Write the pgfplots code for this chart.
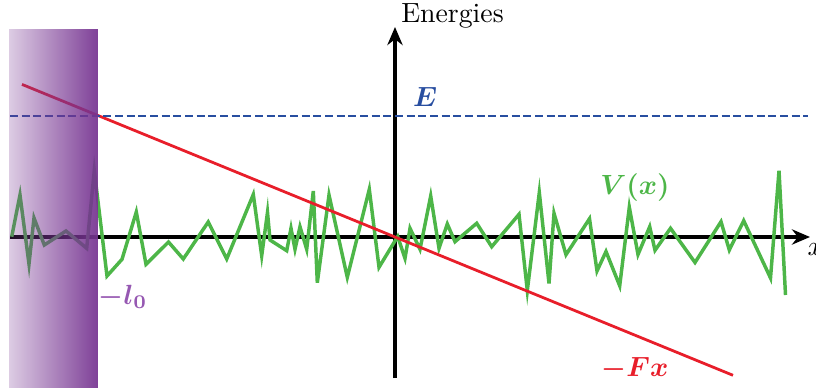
\documentclass[border=0pt]{standalone}
\usepackage{pgfplots}
\pgfplotsset{compat=1.18}
\usepackage{bm}
\usetikzlibrary{fadings,arrows.meta}
\definecolor{vgreen}{RGB}{77,182,72}
\definecolor{fred}{RGB}{232,30,42}
\definecolor{eblue}{RGB}{40,78,160}
\definecolor{lpurple}{RGB}{150,88,178}
\definecolor{wall}{RGB}{118,52,145}
\tikzfading[name=wallfade, left color=transparent!75, right color=transparent!6]
\begin{document}
\begin{tikzpicture}
\path[use as bounding box, clip] (0,0) rectangle (293.76pt,139.32pt);
\begin{axis}[at={(0,0)}, anchor=south west, x=0.36pt, y=0.36pt,
  xmin=-395, xmax=421, ymin=-150, ymax=237, hide axis, clip=false]
% axes
\draw[line width=1.15pt, -{Stealth[length=6.5pt,width=5.5pt]}] (axis cs:-385,0) -- (axis cs:415,0);
\draw[line width=1.15pt, -{Stealth[length=6.5pt,width=5.5pt]}] (axis cs:0,-141) -- (axis cs:0,210);
% potential V(x)
\addplot[vgreen, line width=1.25pt] coordinates {
(-383.3,0.3) (-375,42) (-366,-27) (-361,19) (-350.7,-8) (-329,6) (-308.3,-11.3)
(-300.7,66.3) (-288,-39) (-273,-22.3) (-258.7,25) (-249,-27.3) (-226.5,-5)
(-211.7,-22) (-186.8,15) (-168.3,-22) (-141.7,42.5) (-133.3,-18.7) (-127.5,24.7)
(-125,-3) (-108.3,-13.7) (-104,8.7) (-100,-12.3) (-95,10.3) (-88.3,-12.3)
(-81.7,46) (-77.7,-45.7) (-66,42) (-47.7,-40.3) (-25.7,47.7) (-16,-30.3)
(2.7,0.5) (10,-21.3) (15,8.7) (25,-12.3) (35.7,41) (44,-11.3) (52.3,13)
(60,-4.7) (81.7,13.7) (96.7,-9.7) (124,22.7) (132.3,-53.5) (144.3,44.5)
(154,-46.5) (159,23.7) (171,-17.7) (194.5,18.3) (202,-34) (211,-14.5)
(224.7,-48.8) (234.3,29.8) (243,-17.5) (254.7,10.3) (260,-13.3) (275.5,8.7)
(300,-25.5) (326,15.3) (334.3,-13) (348.7,16.3) (375.5,-41) (384,66.3) (390.5,-58)
};
% -Fx
\addplot[fred, line width=1pt] coordinates {(-373,152.6) (338,-138.3)};
% E
\addplot[eblue, line width=0.85pt, dash pattern=on 2.9pt off 1.3pt] coordinates {(-385,121) (413,121)};
% wall
\fill[wall, path fading=wallfade] (axis cs:-386,-160) rectangle (axis cs:-297,208);
% labels
\node[anchor=base] at (axis cs:57.5,214) {Energies};
\node[anchor=base, text=eblue] at (axis cs:30,130) {$\bm{E}$};
\node[anchor=base, text=vgreen] at (axis cs:240,43) {$\bm{V(x)}$};
\node[anchor=base, text=fred] at (axis cs:240,-139.7) {$\bm{-Fx}$};
\node[anchor=base, text=lpurple] at (axis cs:-272,-67) {$\bm{-l_0}$};
\node[anchor=base west, inner sep=0pt] at (axis cs:412,-18) {$x$};
\end{axis}
\end{tikzpicture}
\end{document}
